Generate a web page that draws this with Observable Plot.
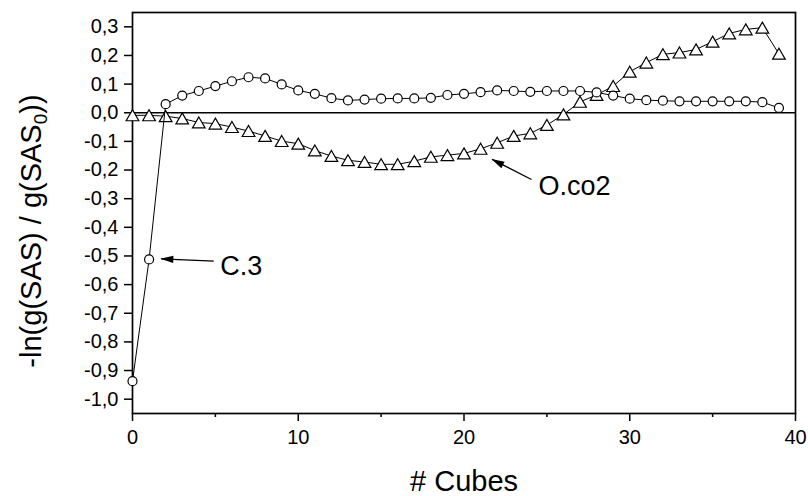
<!DOCTYPE html>
<html><head><meta charset="utf-8">
<script src="https://cdn.jsdelivr.net/npm/d3@7"></script>
<script src="https://cdn.jsdelivr.net/npm/@observablehq/plot@0.6"></script>
<style>body{margin:0;background:#fff}</style>
</head><body><div id="chart"></div>
<script>
const cubes = [0,1,2,3,4,5,6,7,8,9,10,11,12,13,14,15,16,17,18,19,20,21,22,23,24,25,26,27,28,29,30,31,32,33,34,35,36,37,38,39];
const c3 = [-0.937,-0.512,0.030,0.060,0.076,0.093,0.110,0.124,0.120,0.099,0.078,0.066,0.051,0.043,0.046,0.049,0.050,0.050,0.052,0.062,0.066,0.072,0.078,0.076,0.073,0.076,0.076,0.076,0.071,0.060,0.049,0.044,0.042,0.040,0.040,0.040,0.040,0.040,0.037,0.017];
const oco2 = [-0.009,-0.009,-0.012,-0.020,-0.034,-0.038,-0.050,-0.064,-0.081,-0.099,-0.108,-0.132,-0.151,-0.166,-0.172,-0.180,-0.180,-0.169,-0.154,-0.148,-0.142,-0.126,-0.105,-0.081,-0.072,-0.043,-0.006,0.038,0.062,0.093,0.143,0.175,0.204,0.210,0.221,0.248,0.277,0.291,0.297,0.206];
const yTicks = [-1.0,-0.9,-0.8,-0.7,-0.6,-0.5,-0.4,-0.3,-0.2,-0.1,0.0,0.1,0.2,0.3];
const xTicks = [0,10,20,30,40];
const xMinorTicks = [5,15,25,35];
const labelNames = ["C.3","O.co2"];
const labelX = [5.3, 24.5];
const labelY = [-0.537, -0.258];
const arrowX1 = [4.9, 24.07];
const arrowY1 = [-0.518, -0.233];
const arrowX2 = [1.73, 21.7];
const arrowY2 = [-0.51, -0.163];
const xTitle = "# Cubes";
const yTitle = "-ln(g(SAS) / g(SAS0))";

const c3Data = cubes.map((x,i) => ({x, y: c3[i]}));
const ocoData = cubes.map((x,i) => ({x, y: oco2[i]}));
const labels = labelNames.map((t,i) => ({t, x: labelX[i], y: labelY[i]}));
const arrows = labelNames.map((t,i) => ({x1: arrowX1[i], y1: arrowY1[i], x2: arrowX2[i], y2: arrowY2[i]}));
const fmt = d => d.toFixed(1).replace(".", ",");
const FONT = "'Liberation Sans', Arial, Helvetica, sans-serif";

const chart = Plot.plot({
  width: 808, height: 496,
  marginLeft: 132, marginRight: 13, marginTop: 12, marginBottom: 83,
  style: {fontFamily: FONT, fontSize: "20px", color: "black", background: "white"},
  x: {domain: [0, 40]},
  y: {domain: [-1.05, 0.35]},
  marks: [
    Plot.ruleY([0], {stroke: "black", strokeWidth: 1.5}),
    Plot.axisY({ticks: yTicks, tickSize: 8, tickPadding: 6, tickFormat: fmt, label: null, strokeWidth: 1.5, fontSize: 20}),
    Plot.axisX({ticks: xTicks, tickSize: 8, tickPadding: 8, tickFormat: d => String(d), label: null, strokeWidth: 1.5, fontSize: 20}),
    Plot.axisX({ticks: xMinorTicks, tickSize: 4, tickFormat: () => "", label: null, strokeWidth: 1.5}),
    Plot.frame({stroke: "black", strokeWidth: 1.7}),
    Plot.line(ocoData, {x: "x", y: "y", stroke: "black", strokeWidth: 1}),
    Plot.dot(ocoData, {x: "x", y: "y", symbol: "triangle", r: 4.7, fill: "white", stroke: "black", strokeWidth: 1.2, dy: 1.75}),
    Plot.line(c3Data, {x: "x", y: "y", stroke: "black", strokeWidth: 1}),
    Plot.dot(c3Data, {x: "x", y: "y", r: 4.5, fill: "white", stroke: "black", strokeWidth: 1.2}),
    Plot.link(arrows, {x1: "x1", y1: "y1", x2: "x2", y2: "y2", stroke: "black", strokeWidth: 1.3, markerEnd: "arrow"}),
    Plot.text(labels, {x: "x", y: "y", text: "t", textAnchor: "start", lineAnchor: "middle", fontSize: 27, fill: "black"}),
    Plot.text([xTitle], {frameAnchor: "bottom", dy: 68, textAnchor: "middle", lineAnchor: "middle", fontSize: 29, fill: "black"}),
    Plot.text([yTitle], {frameAnchor: "left", dx: -101, dy: 18, rotate: -90, textAnchor: "middle", lineAnchor: "middle", fontSize: 29, fill: "black"})
  ]
});
document.getElementById("chart").appendChild(chart);

// filled arrowheads
chart.querySelectorAll("marker").forEach(m => {
  m.setAttribute("overflow", "visible");
  m.setAttribute("fill", "black");
  m.setAttribute("stroke", "none");
  const p = m.querySelector("path");
  if (p) p.setAttribute("d", "M-14,-4.2L1,0L-14,4.2Z");
});
// subscript 0 in y title
chart.querySelectorAll("text").forEach(t => {
  if (t.textContent === yTitle) {
    t.innerHTML = '-ln(g(SAS) / g(SAS<tspan dy="6" font-size="19">0</tspan><tspan dy="-6">))</tspan>';
  }
});
</script>
</body></html>
